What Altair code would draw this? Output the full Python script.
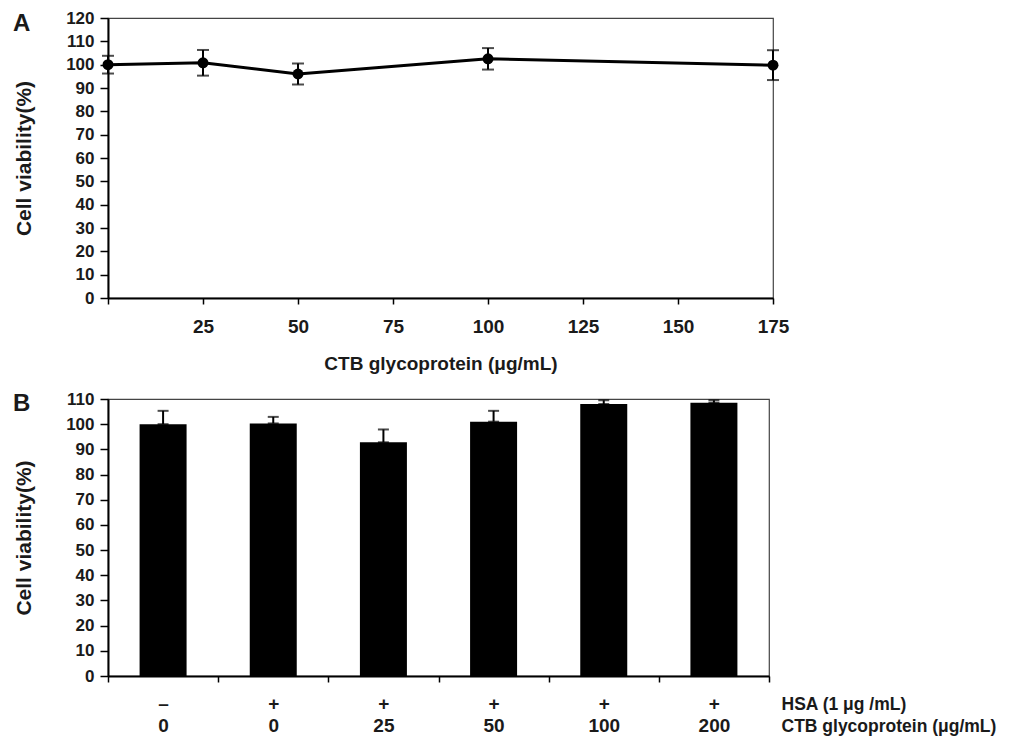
import altair as alt
import pandas as pd

# Panel A data
a_conc = [0, 25, 50, 100, 175]
a_mean = [100.0, 100.8, 96.0, 102.5, 99.8]
a_err = [3.8, 5.5, 4.5, 4.6, 6.4]
a_xticks = [0, 25, 50, 75, 100, 125, 150, 175]
a_yticks = [0, 10, 20, 30, 40, 50, 60, 70, 80, 90, 100, 110, 120]

# Panel B data
b_hsa = ["–", "+", "+", "+", "+", "+"]
b_ctb = ["0", "0", "25", "50", "100", "200"]
b_mean = [100.0, 100.3, 92.8, 101.0, 108.0, 108.5]
b_err = [5.3, 2.6, 5.1, 4.3, 1.5, 1.0]
b_yticks = [0, 10, 20, 30, 40, 50, 60, 70, 80, 90, 100, 110]

YTITLE = "Cell viability(%)"
FONT = "Liberation Sans"

dfa = pd.DataFrame({"conc": a_conc, "mean": a_mean, "err": a_err})
dfa["lo"] = dfa["mean"] - dfa["err"]
dfa["hi"] = dfa["mean"] + dfa["err"]

dfb = pd.DataFrame({"hsa": b_hsa, "ctb": b_ctb, "mean": b_mean, "err": b_err})
dfb["key"] = dfb["hsa"] + "|" + dfb["ctb"]
dfb["top"] = dfb["mean"] + dfb["err"]
order = list(dfb["key"])

yaxis_common = dict(
    grid=False, tickSize=8, labelPadding=6, labelFontSize=17, labelFontWeight="bold",
    labelColor="#1a1a1a", tickColor="black", tickWidth=1.5, domainColor="black",
    domainWidth=2, titleFontSize=21, titleFontWeight="bold", titleColor="#1a1a1a",
    titlePadding=31,
)

# ---------- Panel A ----------
xa_scale = alt.Scale(domain=[0, 175], nice=False)
ya_scale = alt.Scale(domain=[0, 120], nice=False)
xa_axis = alt.Axis(
    values=a_xticks, labelExpr="datum.value == 0 ? '' : datum.label", grid=False,
    tickSize=6, labelPadding=13, labelFontSize=19, labelFontWeight="bold",
    labelColor="#1a1a1a", tickColor="black", tickWidth=1.5, domainColor="black",
    domainWidth=2, title="CTB glycoprotein (μg/mL)", titleFontSize=19,
    titleFontWeight="bold", titleColor="#1a1a1a", titlePadding=18, labelFlush=False,
)
ya_axis = alt.Axis(values=a_yticks, **yaxis_common)

baseA = alt.Chart(dfa)
lineA = baseA.mark_line(color="black", strokeWidth=3).encode(
    x=alt.X("conc:Q", scale=xa_scale, axis=xa_axis),
    y=alt.Y("mean:Q", scale=ya_scale, axis=ya_axis, title=YTITLE),
)
errA = baseA.mark_errorbar(
    color="black", thickness=2, ticks={"size": 12, "thickness": 2, "color": "black"}
).encode(
    x=alt.X("conc:Q", scale=xa_scale, axis=xa_axis),
    y=alt.Y("lo:Q", scale=ya_scale, axis=ya_axis, title=YTITLE),
    y2="hi:Q",
)
ptsA = baseA.mark_point(filled=True, color="black", size=120, opacity=1).encode(
    x=alt.X("conc:Q", scale=xa_scale, axis=xa_axis),
    y=alt.Y("mean:Q", scale=ya_scale, axis=ya_axis, title=YTITLE),
)
letterA = alt.Chart(pd.DataFrame({"t": ["A"]})).mark_text(
    font=FONT, fontSize=24, fontWeight="bold", align="left", baseline="alphabetic",
    color="#1a1a1a",
).encode(text="t:N", x=alt.value(-95), y=alt.value(13))

chartA = alt.layer(lineA, errA, ptsA, letterA).properties(width=665, height=280)

# ---------- Panel B ----------
yb_scale = alt.Scale(domain=[0, 110], nice=False)
yb_axis = alt.Axis(values=b_yticks, **yaxis_common)
xb_axis = alt.Axis(
    labelExpr="split(datum.label, '|')", labelAngle=0, tickBand="extent", grid=False,
    tickSize=6, labelPadding=27, labelBaseline="alphabetic", labelLineHeight=22,
    labelFontSize=19, labelFontWeight="bold", labelColor="#1a1a1a",
    tickColor="black", tickWidth=1.5, domainColor="black", domainWidth=2,
    title=["HSA (1 μg /mL)", "CTB glycoprotein (μg/mL)"], titleFontSize=17.5,
    titleFontWeight="bold", titleColor="#1a1a1a", titleX=673, titleY=33,
    titleAlign="left", titleBaseline="alphabetic", titleLineHeight=22,
)
xb = alt.X("key:N", sort=order, scale=alt.Scale(paddingInner=0, paddingOuter=0), axis=xb_axis)

baseB = alt.Chart(dfb)
barsB = baseB.mark_bar(color="black", size=47).encode(
    x=xb, y=alt.Y("mean:Q", scale=yb_scale, axis=yb_axis, title=YTITLE),
)
errB = baseB.mark_errorbar(
    color="black", thickness=2, ticks={"size": 11, "thickness": 2, "color": "black"}
).encode(
    x=xb, y=alt.Y("mean:Q", scale=yb_scale, axis=yb_axis, title=YTITLE), y2="top:Q",
)
letterB = alt.Chart(pd.DataFrame({"t": ["B"]})).mark_text(
    font=FONT, fontSize=24, fontWeight="bold", align="left", baseline="alphabetic",
    color="#1a1a1a",
).encode(text="t:N", x=alt.value(-95), y=alt.value(12))

chartB = alt.layer(barsB, errB, letterB).properties(width=661, height=277)

chart = (
    alt.vconcat(chartA, chartB, spacing=15)
    .properties(padding={"left": 4, "top": 0, "right": 0, "bottom": 0}, background="white")
    .configure(font=FONT)
    .configure_view(stroke="#444", strokeWidth=1.2)
    .configure_axis(labelFont=FONT, titleFont=FONT)
)

chart.save("out.html", embed_options={"renderer": "svg", "actions": False})
